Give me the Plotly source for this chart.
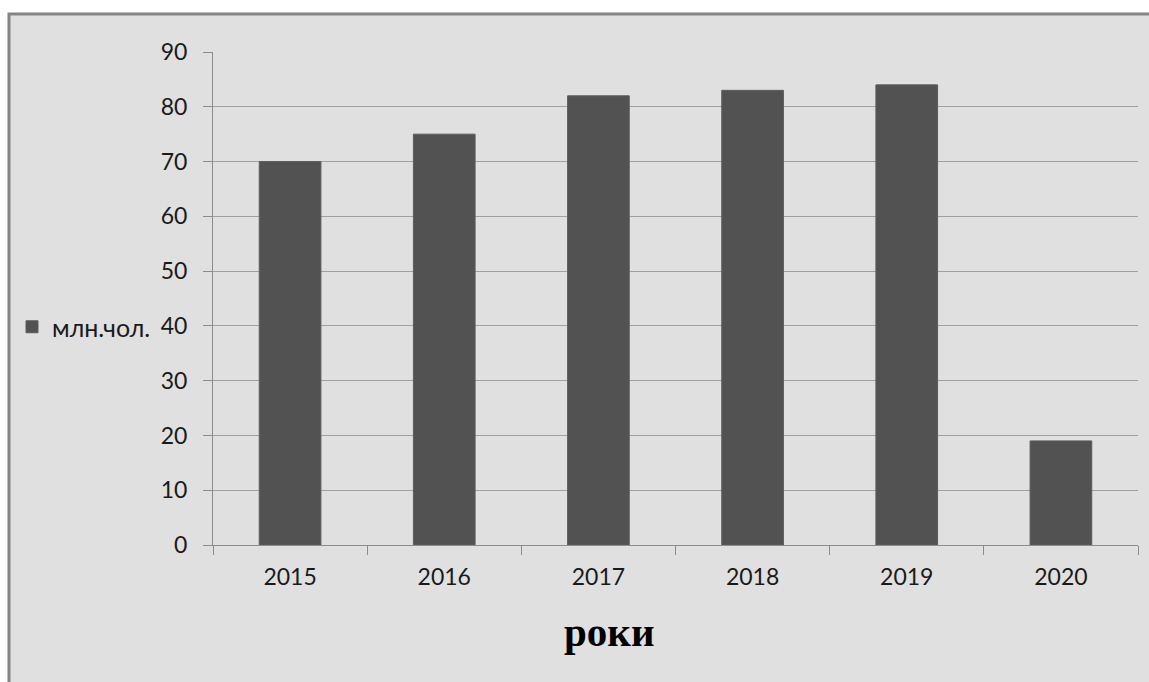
import plotly.graph_objects as go

years = ["2015", "2016", "2017", "2018", "2019", "2020"]
values = [70, 75, 82, 83, 84, 19]
series_name = "млн.чол."
y_ticks = [0, 10, 20, 30, 40, 50, 60, 70, 80, 90]
x_title = "роки"

W, H = 1149, 682
L, R, T, B = 213, 11, 52, 137
pw, ph = W - L - R, H - T - B

def px_x(x):
    return (x - L) / pw

def px_y(y):
    return (H - B - y) / ph

fig = go.Figure()
fig.add_trace(go.Bar(
    x=years, y=values, name=series_name,
    marker=dict(color="#525252", line=dict(color="#5c5c5c", width=1)),
    showlegend=True,
))

fig.update_layout(
    width=W, height=H,
    margin=dict(l=L, r=R, t=T, b=B),
    paper_bgcolor="white",
    plot_bgcolor="rgba(0,0,0,0)",
    bargap=0.6,
    font=dict(family="Lato", size=23, color="#1a1a1a"),
    showlegend=True,
    legend=dict(x=px_x(12), y=px_y(327), xanchor="left", yanchor="middle",
                bgcolor="rgba(0,0,0,0)", font=dict(size=25),
                itemwidth=30),
    xaxis=dict(
        type="category", showgrid=False, showline=True, linecolor="#8c8c8c", linewidth=1,
        ticks="outside", tickson="boundaries", ticklen=9, tickcolor="#8c8c8c",
        tickfont=dict(size=23), ticklabelstandoff=11, fixedrange=True,
    ),
    yaxis=dict(
        range=[0, 90], tickvals=y_ticks, showgrid=True, gridcolor="#a0a0a0", gridwidth=1,
        showline=True, linecolor="#8c8c8c", linewidth=1, zeroline=False,
        ticks="outside", ticklen=9, tickcolor="#8c8c8c", tickfont=dict(size=23),
        ticklabelstandoff=11, fixedrange=True,
    ),
    shapes=[dict(
        type="rect", xref="paper", yref="paper", layer="below",
        x0=px_x(9), x1=px_x(W + 10), y0=px_y(H + 10), y1=px_y(14),
        fillcolor="#e0e0e0", line=dict(color="#858585", width=3),
    )],
    annotations=[dict(
        text="<b>" + x_title + "</b>", xref="paper", yref="paper",
        x=px_x(609), y=px_y(632), xanchor="center", yanchor="middle",
        showarrow=False, font=dict(family="Liberation Serif", size=41, color="black"),
    )],
)

fig.write_html("out.html", config={"displayModeBar": False},
               post_script="document.body.style.margin='0';document.body.style.overflow='hidden';")
